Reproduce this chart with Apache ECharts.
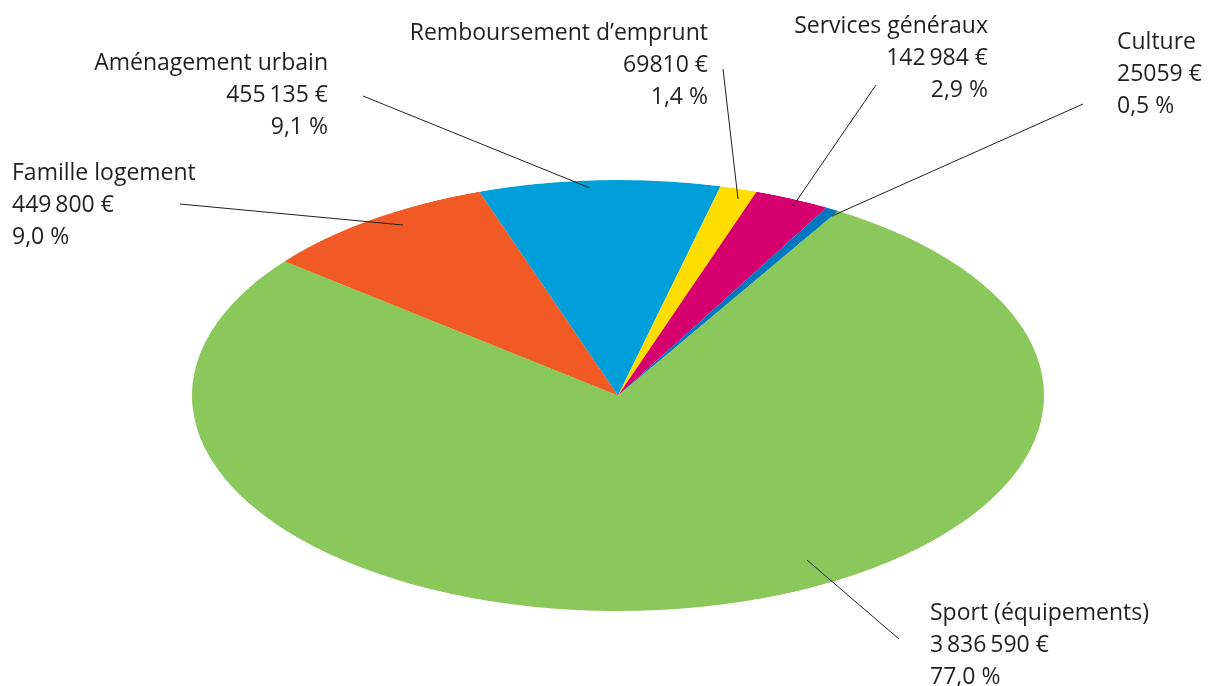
<!DOCTYPE html>
<html>
<head>
<meta charset="utf-8">
<script src="https://cdn.jsdelivr.net/npm/echarts@6/dist/echarts.min.js"></script>
<style>
  html, body { margin: 0; padding: 0; background: #fff; }
  #wrap { position: relative; width: 1213px; height: 686px; overflow: hidden; }
  /* circular pie drawn then flattened into an ellipse */
  #pie { position: absolute; left: 0; width: 1213px; height: 860px; transform-origin: 0 0; }
  #labels { position: absolute; left: 0; top: 0; width: 1213px; height: 686px; }
</style>
</head>
<body>
<div id="wrap">
  <div id="pie"></div>
  <div id="labels"></div>
</div>
<script>
var categories = ['Famille logement', 'Aménagement urbain', 'Remboursement d\u2019emprunt',
                  'Services généraux', 'Culture', 'Sport (équipements)'];
var amounts = [449800, 455135, 69810, 142984, 25059, 3836590];
var amountTexts = ['449\u2009800 €', '455\u2009135 €', '69810 €', '142\u2009984 €', '25059 €', '3\u2009836\u2009590 €'];
var colors = ['#f15a24', '#009fd9', '#ffdd00', '#d6006f', '#0077bf', '#8bc85b'];

// label placement: text anchor (first line) and leader line ends
var layout = [
    {x: 12,   y: 185, align: 'left',  from: [180, 204], to: [403, 225]},
    {x: 328,  y: 75,  align: 'right', from: [363, 96],  to: [590, 188]},
    {x: 708,  y: 45,  align: 'right', from: [723, 69],  to: [738, 199]},
    {x: 988,  y: 38,  align: 'right', from: [876, 85],  to: [793, 206]},
    {x: 1117, y: 54,  align: 'left',  from: [1083, 104], to: [832, 216]},
    {x: 930,  y: 625, align: 'left',  from: [807, 560], to: [899, 639]}
];

var cx = 618, cy = 395.5, rx = 426, ry = 215.5;
var squash = ry / rx;
var pieDiv = document.getElementById('pie');
pieDiv.style.top = (cy - 430 * squash) + 'px';
pieDiv.style.transform = 'scaleY(' + squash + ')';

var total = amounts.reduce(function(a, b) { return a + b; }, 0);
var percentTexts = amounts.map(function(v) {
    return (v / total * 100).toFixed(1).replace('.', ',') + ' %';
});

var pieChart = echarts.init(pieDiv, null, {renderer: 'canvas'});
pieChart.setOption({
    animation: false,
    color: colors,
    series: [{
        type: 'pie',
        center: [cx, 430],
        radius: [0, rx],
        startAngle: 141.5,
        clockwise: true,
        label: {show: false},
        labelLine: {show: false},
        itemStyle: {borderWidth: 0},
        emphasis: {disabled: true},
        data: categories.map(function(name, i) {
            return {name: name, value: amounts[i]};
        })
    }]
});

var FONT = '23px "Open Sans", sans-serif';
var LINE_H = 32;
var elements = [];
categories.forEach(function(name, i) {
    var l = layout[i];
    elements.push({
        type: 'line',
        shape: {x1: l.from[0], y1: l.from[1], x2: l.to[0], y2: l.to[1]},
        style: {stroke: '#231f20', lineWidth: 1}
    });
    [name, amountTexts[i], percentTexts[i]].forEach(function(txt, k) {
        elements.push({
            type: 'text',
            x: l.x,
            y: l.y + k * LINE_H,
            style: {
                text: txt,
                font: FONT,
                fill: '#231f20',
                align: l.align,
                verticalAlign: 'bottom'
            }
        });
    });
});

var labelChart = echarts.init(document.getElementById('labels'));
labelChart.setOption({animation: false, graphic: {elements: elements}});
</script>
</body>
</html>
